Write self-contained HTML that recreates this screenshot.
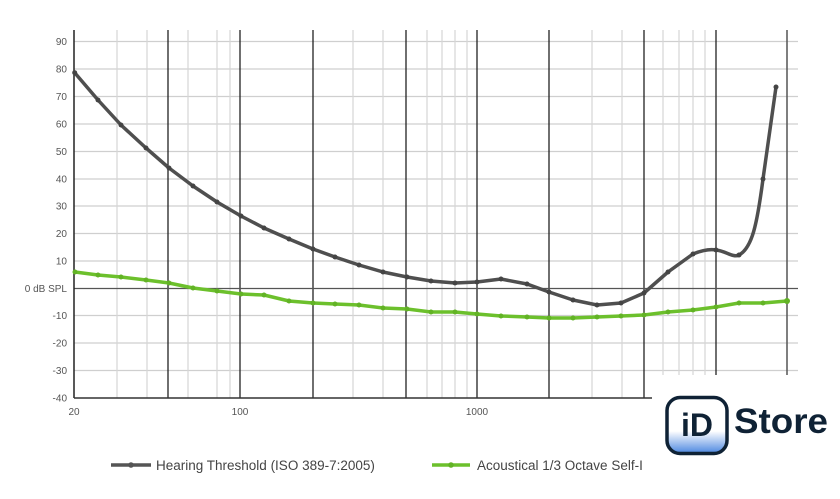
<!DOCTYPE html>
<html><head><meta charset="utf-8"><style>
html,body{margin:0;padding:0;background:#fff;width:840px;height:499px;overflow:hidden}
svg{display:block}
text{font-family:"Liberation Sans",sans-serif}
</style></head><body>
<svg width="840" height="499" viewBox="0 0 840 499" xmlns="http://www.w3.org/2000/svg">
<g stroke="#cfcfcf" stroke-width="1.2">
<line x1="74" x2="798" y1="41.5" y2="41.5"/><line x1="74" x2="798" y1="69" y2="69"/><line x1="74" x2="798" y1="96.5" y2="96.5"/><line x1="74" x2="798" y1="124" y2="124"/><line x1="74" x2="798" y1="151.5" y2="151.5"/><line x1="74" x2="798" y1="179" y2="179"/><line x1="74" x2="798" y1="206" y2="206"/><line x1="74" x2="798" y1="233.5" y2="233.5"/><line x1="74" x2="798" y1="261" y2="261"/><line x1="74" x2="798" y1="315.5" y2="315.5"/><line x1="74" x2="798" y1="343" y2="343"/><line x1="74" x2="798" y1="370.5" y2="370.5"/>
</g>
<g stroke="#d6d6d6" stroke-width="1.2">
<line x1="117" x2="117" y1="30" y2="398"/><line x1="147" x2="147" y1="30" y2="398"/><line x1="188" x2="188" y1="30" y2="398"/><line x1="217" x2="217" y1="30" y2="398"/><line x1="230" x2="230" y1="30" y2="398"/><line x1="353" x2="353" y1="30" y2="398"/><line x1="383" x2="383" y1="30" y2="398"/><line x1="427" x2="427" y1="30" y2="398"/><line x1="442" x2="442" y1="30" y2="398"/><line x1="455" x2="455" y1="30" y2="398"/><line x1="467" x2="467" y1="30" y2="398"/><line x1="592" x2="592" y1="30" y2="398"/><line x1="622" x2="622" y1="30" y2="398"/><line x1="663" x2="663" y1="30" y2="382"/><line x1="679" x2="679" y1="30" y2="382"/><line x1="693" x2="693" y1="30" y2="382"/><line x1="705" x2="705" y1="30" y2="382"/>
</g>
<g stroke="#222" stroke-width="1.3">
<line x1="168" x2="168" y1="30" y2="398"/><line x1="240" x2="240" y1="30" y2="398"/><line x1="313" x2="313" y1="30" y2="398"/><line x1="406" x2="406" y1="30" y2="398"/><line x1="477" x2="477" y1="30" y2="398"/><line x1="549" x2="549" y1="30" y2="398"/><line x1="644" x2="644" y1="30" y2="398"/><line x1="716" x2="716" y1="30" y2="382"/>
</g>
<line x1="787" x2="787" y1="30" y2="382" stroke="#555" stroke-width="1.5"/>
<line x1="74" x2="798" y1="288.5" y2="288.5" stroke="#555" stroke-width="1.3"/>
<line x1="74" x2="74" y1="30" y2="398" stroke="#222" stroke-width="1.5"/>
<line x1="74" x2="652" y1="398" y2="398" stroke="#333" stroke-width="1.5"/>
<g font-size="10" fill="#555" text-anchor="end">
<text x="67" y="45">90</text><text x="67" y="72.5">80</text><text x="67" y="100">70</text><text x="67" y="127.5">60</text><text x="67" y="155">50</text><text x="67" y="182.5">40</text><text x="67" y="209.5">30</text><text x="67" y="237">20</text><text x="67" y="264.5">10</text><text x="67" y="292">0 dB SPL</text><text x="67" y="319">-10</text><text x="67" y="346.5">-20</text><text x="67" y="374">-30</text><text x="67" y="401.5">-40</text>
</g>
<g font-size="10" fill="#555" text-anchor="middle"><text x="74" y="415">20</text><text x="240" y="415">100</text><text x="477" y="415">1000</text></g>
<path fill="none" stroke="#4f4f4f" stroke-width="3.5" stroke-linejoin="round" d="M74.7,72.7 L98,100 121,125 146,148 169,168 193,186 217,202 241,216 264,228 289,239 313,249 335,257 359,265 383,272 407,277 431,281 455,283 477,282 501,279 527,284 549,292 573,300 597,305 621,303 644,293 668,272 693,254 C703,250 710,249 716,250 C726,251 733,258 739,255 C752,248 757,225 763,179 L776,87"/>
<g fill="#444">
<circle cx="74.7" cy="72.7" r="2.5"/><circle cx="98" cy="100" r="2.5"/><circle cx="121" cy="125" r="2.5"/><circle cx="146" cy="148" r="2.5"/><circle cx="169" cy="168" r="2.5"/><circle cx="193" cy="186" r="2.5"/><circle cx="217" cy="202" r="2.5"/><circle cx="241" cy="216" r="2.5"/><circle cx="264" cy="228" r="2.5"/><circle cx="289" cy="239" r="2.5"/><circle cx="313" cy="249" r="2.5"/><circle cx="335" cy="257" r="2.5"/><circle cx="359" cy="265" r="2.5"/><circle cx="383" cy="272" r="2.5"/><circle cx="407" cy="277" r="2.5"/><circle cx="431" cy="281" r="2.5"/><circle cx="455" cy="283" r="2.5"/><circle cx="477" cy="282" r="2.5"/><circle cx="501" cy="279" r="2.5"/><circle cx="527" cy="284" r="2.5"/><circle cx="549" cy="292" r="2.5"/><circle cx="573" cy="300" r="2.5"/><circle cx="597" cy="305" r="2.5"/><circle cx="621" cy="303" r="2.5"/><circle cx="644" cy="293" r="2.5"/><circle cx="668" cy="272" r="2.5"/><circle cx="693" cy="254" r="2.5"/><circle cx="716" cy="250" r="2.5"/><circle cx="739" cy="255" r="2.5"/><circle cx="763" cy="179" r="2.5"/><circle cx="776" cy="87" r="2.5"/>
</g>
<polyline fill="none" stroke="#6cc02c" stroke-width="3.5" stroke-linejoin="round" points="75,272 98,275 121,277 146,280 169,283 193,288 217,291 241,294 264,295 289,301 313,303 335,304 359,305 383,308 407,309 431,312 455,312 477,314 501,316 527,317 549,318 573,318 597,317 621,316 644,315 668,312 693,310 716,307 739,303 763,303 787,301"/>
<g fill="#62b325">
<circle cx="75" cy="272" r="2.5"/><circle cx="98" cy="275" r="2.5"/><circle cx="121" cy="277" r="2.5"/><circle cx="146" cy="280" r="2.5"/><circle cx="169" cy="283" r="2.5"/><circle cx="193" cy="288" r="2.5"/><circle cx="217" cy="291" r="2.5"/><circle cx="241" cy="294" r="2.5"/><circle cx="264" cy="295" r="2.5"/><circle cx="289" cy="301" r="2.5"/><circle cx="313" cy="303" r="2.5"/><circle cx="335" cy="304" r="2.5"/><circle cx="359" cy="305" r="2.5"/><circle cx="383" cy="308" r="2.5"/><circle cx="407" cy="309" r="2.5"/><circle cx="431" cy="312" r="2.5"/><circle cx="455" cy="312" r="2.5"/><circle cx="477" cy="314" r="2.5"/><circle cx="501" cy="316" r="2.5"/><circle cx="527" cy="317" r="2.5"/><circle cx="549" cy="318" r="2.5"/><circle cx="573" cy="318" r="2.5"/><circle cx="597" cy="317" r="2.5"/><circle cx="621" cy="316" r="2.5"/><circle cx="644" cy="315" r="2.5"/><circle cx="668" cy="312" r="2.5"/><circle cx="693" cy="310" r="2.5"/><circle cx="716" cy="307" r="2.5"/><circle cx="739" cy="303" r="2.5"/><circle cx="763" cy="303" r="2.5"/><circle cx="787" cy="301" r="3"/>
</g>
<line x1="111" x2="151" y1="465" y2="465" stroke="#555" stroke-width="3.5"/><circle cx="131" cy="465" r="2.8" fill="#555"/>
<text x="156" y="470" font-size="13.5" fill="#444">Hearing Threshold (ISO 389-7:2005)</text>
<line x1="432" x2="470" y1="465" y2="465" stroke="#6cc02c" stroke-width="3.5"/><circle cx="451" cy="465" r="2.8" fill="#62b325"/>
<text x="477" y="470" font-size="13.5" fill="#444">Acoustical 1/3 Octave Self-I</text>
<rect x="658" y="383" width="182" height="116" fill="#fff"/>
<rect x="658" y="375" width="182" height="8" fill="#fff"/>
<defs><linearGradient id="g" x1="0" y1="0" x2="0" y2="1"><stop offset="0.6" stop-color="#fff"/><stop offset="1" stop-color="#4a86e0"/></linearGradient></defs>
<rect x="667" y="397.5" width="60" height="56" rx="13" fill="url(#g)" stroke="#0f2235" stroke-width="3.5"/>
<text x="697" y="436" font-size="32" font-weight="bold" fill="#0f2235" text-anchor="middle">iD</text>
<text x="734" y="433" font-size="35" font-weight="bold" fill="#0f2235" textLength="94" lengthAdjust="spacingAndGlyphs">Store</text>
</svg>
</body></html>
